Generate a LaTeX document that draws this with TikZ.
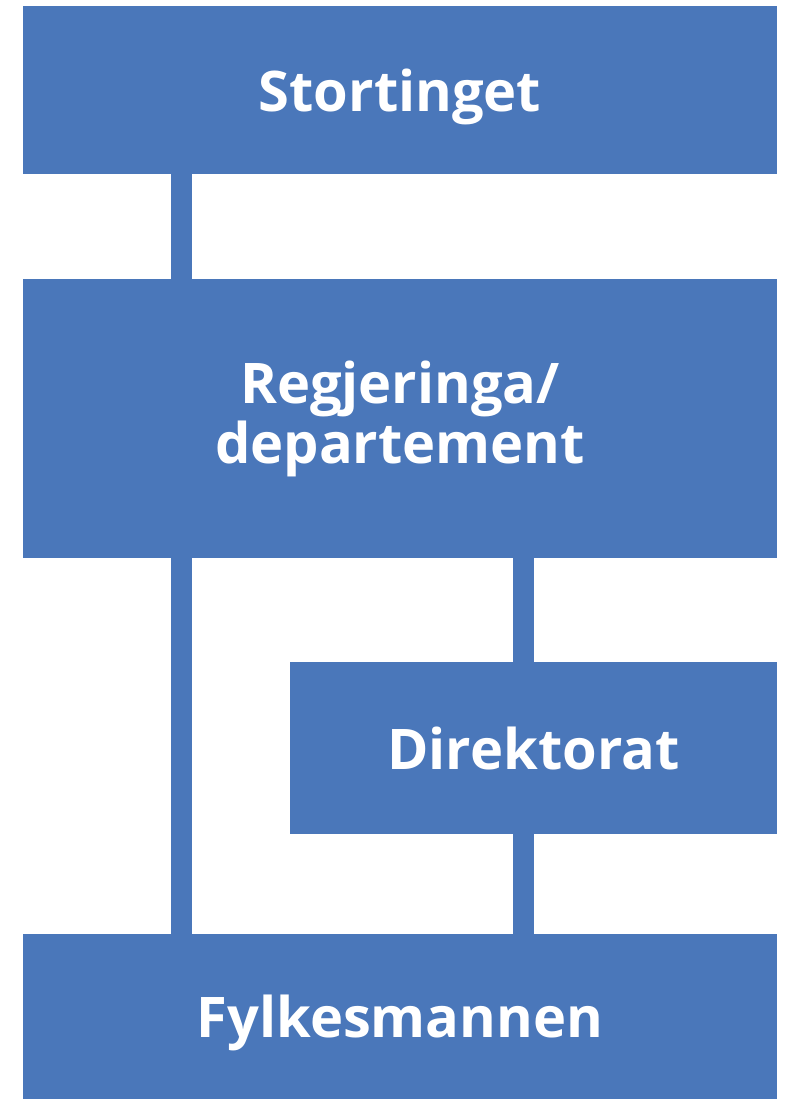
\documentclass[tikz,border=0pt]{standalone}
\usepackage{fontspec}
\setmainfont{Open Sans}
\usepackage{tikz}
\usetikzlibrary{positioning,calc}
\definecolor{orgblue}{RGB}{74,119,186}

\begin{document}
\begin{tikzpicture}[x=1pt,y=-1pt,
	org node/.style={rectangle,inner sep=0pt,outer sep=0pt,fill=orgblue,text=white,
		font=\fontsize{56}{60}\selectfont\bfseries,align=center,
		minimum width=754pt},
	one line/.style={text depth=0pt},
	link/.style={draw=orgblue,line width=21pt}]

    \useasboundingbox (0,0) rectangle (785,1099);

    \node[org node, one line, minimum height=168pt] (S) at (400,90) {Stortinget};
    \node[org node, minimum height=279pt] (R) [below = 105pt of S] {Regjeringa/\\departement};
    \node[org node, one line, minimum height=172pt, minimum width=487pt] (D)
        [below left = 104pt and 0pt of R.south east] {Direktorat};
    \node[org node, one line, minimum height=165pt] (F) [below = 376pt of R] {Fylkesmannen};

	\draw[link] ([xshift=158.5pt]S.south west) -- ([xshift=158.5pt]R.north west);
	\draw[link] ([xshift=158.5pt]R.south west) -- ([xshift=158.5pt]F.north west);
	\draw[link] ([xshift=233.5pt]D.north west |- R.south) -- ([xshift=233.5pt]D.north west);
	\draw[link] ([xshift=233.5pt]D.south west) -- ([xshift=233.5pt]D.south west |- F.north);

\end{tikzpicture}
\end{document}
